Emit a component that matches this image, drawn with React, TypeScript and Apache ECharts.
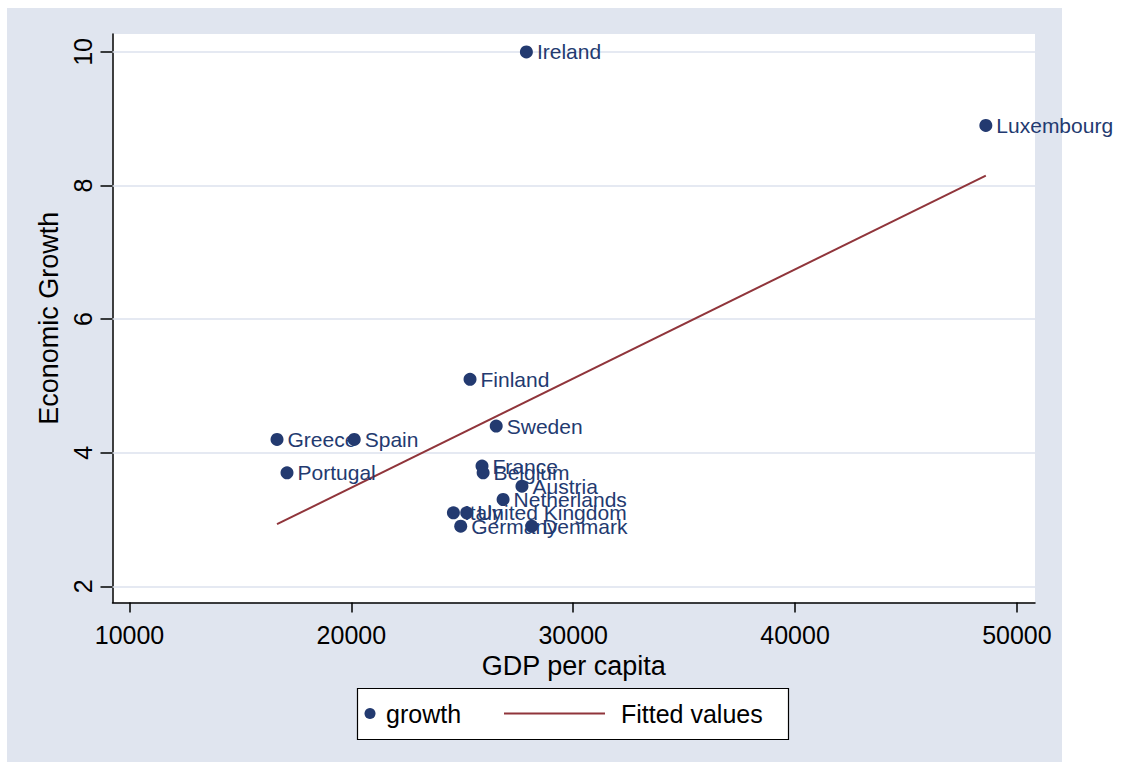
import React, { useEffect, useRef } from "react";
import * as echarts from "echarts";

const countries = ["Ireland", "Luxembourg", "Finland", "Sweden", "Greece", "Spain", "Portugal", "France", "Belgium", "Austria", "Netherlands", "Italy", "United Kingdom", "Germany", "Denmark"];
const gdpPerCapita = [27890, 48600, 25350, 26530, 16650, 20130, 17100, 25890, 25940, 27690, 26840, 24600, 25200, 24930, 28130];
const growth = [10.0, 8.9, 5.1, 4.4, 4.2, 4.2, 3.7, 3.8, 3.7, 3.5, 3.3, 3.1, 3.1, 2.9, 2.9];

const fittedX = [16650, 48600];
const fittedY = [2.93, 8.15];

const xTicks = [10000, 20000, 30000, 40000, 50000];
const yTicks = [2, 4, 6, 8, 10];

const NAVY = "#233A70";
const MAROON = "#90353B";
const BG = "#E0E5EF";
const GRID = "#DCE2EE";
const FONT = "Liberation Sans, Arial, sans-serif";

export default function App() {
  const ref = useRef<HTMLDivElement>(null);
  useEffect(() => {
    if (!ref.current) return;
    const chart = echarts.init(ref.current, null, { renderer: "svg" });
    const scatterData = countries.map((c, i) => ({ name: c, value: [gdpPerCapita[i], growth[i]] }));
    const lineData = fittedX.map((x, i) => [x, fittedY[i]]);
    chart.setOption({
      animation: false,
      textStyle: { fontFamily: FONT },
      graphic: [
        { type: "rect", z: -10, silent: true, shape: { x: 7, y: 8, width: 1055, height: 754 }, style: { fill: BG } },
        { type: "rect", silent: true, shape: { x: 357.5, y: 688.5, width: 431, height: 51 }, style: { fill: "#fff", stroke: "#000", lineWidth: 1.2 } },
        { type: "circle", silent: true, shape: { cx: 370, cy: 713.5, r: 5.5 }, style: { fill: NAVY } },
        { type: "text", silent: true, x: 386, y: 713.5, style: { text: "growth", fill: "#000", font: `25px ${FONT}`, verticalAlign: "middle" } },
        { type: "line", silent: true, shape: { x1: 504, y1: 713.5, x2: 605, y2: 713.5 }, style: { stroke: MAROON, lineWidth: 2 } },
        { type: "text", silent: true, x: 621, y: 713.5, style: { text: "Fitted values", fill: "#000", font: `25px ${FONT}`, verticalAlign: "middle" } },
      ],
      grid: { left: 112.5, top: 34, right: 89, bottom: 164.5, show: true, backgroundColor: "#fff", borderWidth: 0 },
      xAxis: {
        type: "value",
        min: 9234,
        max: 50816,
        name: "GDP per capita",
        nameLocation: "middle",
        nameGap: 40,
        nameTextStyle: { fontSize: 27, color: "#000", fontFamily: FONT },
        axisLine: { show: true, onZero: false, lineStyle: { color: "#000", width: 1.5 } },
        axisTick: { show: true, length: 10, customValues: xTicks, lineStyle: { color: "#000", width: 1.5 } },
        axisLabel: { customValues: xTicks, formatter: (v: number) => String(v), fontSize: 25, color: "#000", margin: 20, fontFamily: FONT },
        splitLine: { show: false },
      },
      yAxis: {
        type: "value",
        min: 1.758,
        max: 10.269,
        name: "Economic Growth",
        nameLocation: "middle",
        nameGap: 45,
        nameTextStyle: { fontSize: 27, color: "#000", fontFamily: FONT },
        axisLine: { show: true, onZero: false, lineStyle: { color: "#000", width: 1.5 } },
        axisTick: { show: true, length: 12, customValues: yTicks, lineStyle: { color: "#000", width: 1.5 } },
        axisLabel: { customValues: yTicks, formatter: (v: number) => String(v), rotate: 90, fontSize: 25, color: "#000", margin: 17, fontFamily: FONT },
        splitLine: { show: false },
      },
      series: [
        {
          name: "Fitted values",
          type: "line",
          data: lineData,
          showSymbol: false,
          symbol: "none",
          z: 2,
          lineStyle: { color: MAROON, width: 2 },
          markLine: {
            silent: true,
            z: 1,
            symbol: ["none", "none"],
            label: { show: false },
            lineStyle: { color: GRID, width: 1.5, type: "solid" },
            data: yTicks.map((v) => ({ yAxis: v })),
          },
        },
        {
          name: "growth",
          type: "scatter",
          data: scatterData,
          symbolSize: 13,
          z: 3,
          itemStyle: { color: NAVY, opacity: 1 },
          label: {
            show: true,
            position: "right",
            distance: 4,
            formatter: "{b}",
            color: NAVY,
            fontSize: 21,
            fontFamily: FONT,
          },
        },
      ],
    });
    return () => chart.dispose();
  }, []);
  return <div ref={ref} style={{ position: "absolute", left: 0, top: 0, width: 1124, height: 767 }} />;
}
